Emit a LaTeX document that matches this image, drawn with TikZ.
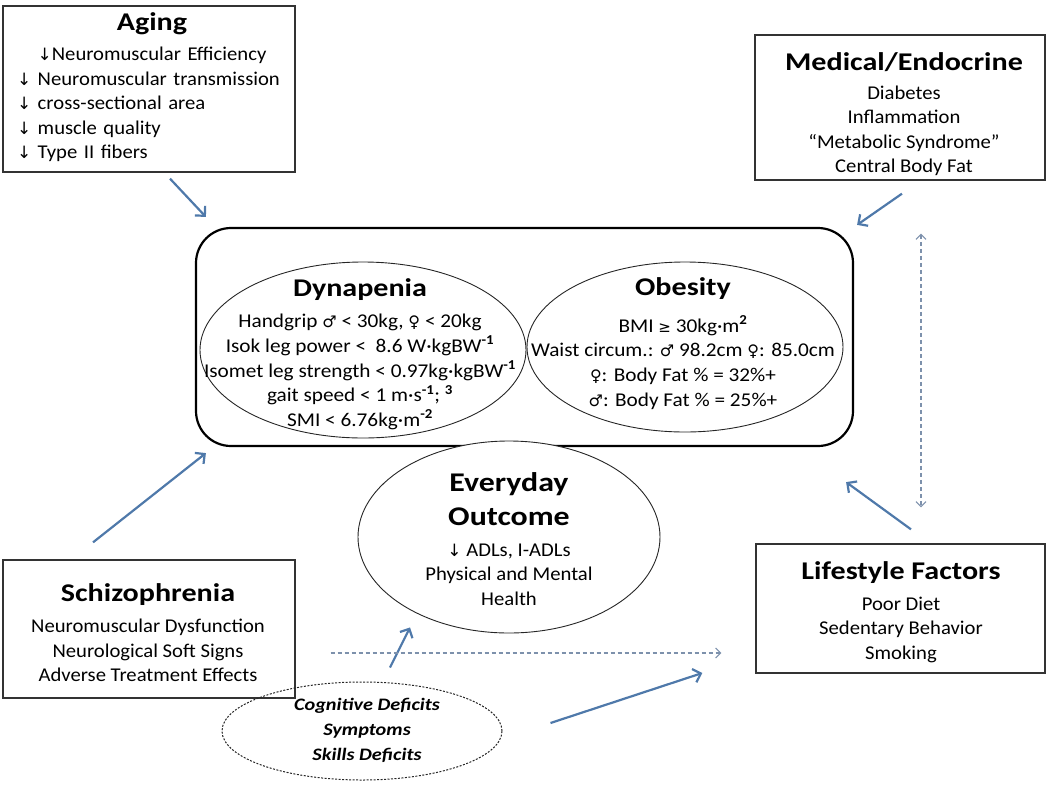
\documentclass[tikz,border=0pt]{standalone}
\usepackage{fontspec}
\setmainfont{Carlito}[FakeStretch=1.06]
\newfontfamily\titlefam{Carlito}[FakeStretch=1.18]
\newfontfamily\ellfam{Carlito}[FakeStretch=1.09]
\newfontfamily\cogfam{Carlito}[FakeStretch=1.16]
\newfontfamily\symf{DejaVu Sans}
\usetikzlibrary{arrows.meta,shapes.geometric,calc}
\newcommand{\mal}{{\symf\fontsize{16}{16}\selectfont ♂}}
\newcommand{\fem}{{\symf\fontsize{16}{16}\selectfont ♀}}
\newcommand{\dn}{{\symf\fontsize{17}{17}\selectfont ↓}}
\newcommand{\geqs}{{\symf\fontsize{15}{15}\selectfont ≥}}
\newcommand{\sps}[1]{\textsuperscript{\textbf{#1}}}
\newcommand{\titlef}{\titlefam\fontsize{25.5}{30}\selectfont\bfseries}
\newcommand{\evf}{\titlefam\fontsize{27}{35}\selectfont\bfseries}
\definecolor{arrblue}{RGB}{79,121,170}
\definecolor{dashblue}{RGB}{125,145,172}
\begin{document}
\begin{tikzpicture}[x=1pt,y=-1pt,
  box/.style={draw=black!80, line width=1.3pt, rectangle, inner sep=0pt},
  body/.style={font=\fontsize{19.5}{24.5}\selectfont, align=center, inner sep=0pt},
  ebody/.style={font=\ellfam\fontsize{19.5}{24.6}\selectfont, align=center, inner sep=0pt},
  oval/.style={draw=black!85, line width=0.9pt, ellipse, inner sep=0pt},
  arr/.style={draw=arrblue, line width=2.2pt, -{Straight Barb[length=7pt,width=14pt]}},
  darr/.style={draw=dashblue, line width=1.1pt, dash pattern=on 4pt off 3pt, -{Straight Barb[length=5pt,width=10pt]}}
]
\useasboundingbox (0,0) rectangle (1050,788);

% boxes
\node[box, minimum width=292pt, minimum height=166pt] (aging) at (149,89) {};
\node[body, text width=270pt, align=left, anchor=north] (agingtext) at (152,12) {%
\centerline{\titlef Aging}\vspace{6pt}
\centerline{\dn Neuromuscular Efficiency}
\dn{} Neuromuscular transmission\par
\dn{} cross-sectional area\par
\dn{} muscle quality\par
\dn{} Type II fibers};

\node[box, minimum width=290pt, minimum height=145pt] (med) at (900,107.5) {};
\node[body] (medtext) at (904,114.5) {{\titlef Medical/Endocrine}\\[4pt]
Diabetes\\Inflammation\\“Metabolic Syndrome”\\Central Body Fat};

\node[box, minimum width=292pt, minimum height=138pt] (schiz) at (149,629) {};
\node[body] (schiztext) at (148,632.5) {{\titlef Schizophrenia}\\[7pt]
Neuromuscular Dysfunction\\Neurological Soft Signs\\Adverse Treatment Effects};

\node[box, minimum width=289pt, minimum height=129pt] (life) at (900.5,608.5) {};
\node[body] (lifetext) at (901,612) {{\titlef Lifestyle Factors}\\[6pt]
Poor Diet\\Sedentary Behavior\\Smoking};

% core
\node[draw=black, line width=2.2pt, rounded corners=35pt, minimum width=657pt, minimum height=218pt, inner sep=0pt] (core) at (524.5,337) {};

\node[oval, minimum width=326pt, minimum height=176pt] (dyn) at (363,350) {};
\node[ebody] (dyntext) at (360,354) {{\titlef Dynapenia}\\[7pt]
Handgrip \mal{} < 30kg, \fem{} < 20kg\\
Isok leg power <~ 8.6 W·kgBW\sps{-1}\\
Isomet leg strength < 0.97kg·kgBW\sps{-1}\\
gait speed < 1 m·s\sps{-1}; \sps{3}\\
SMI < 6.76kg·m\sps{-2}};

\node[oval, minimum width=316pt, minimum height=170pt] (obe) at (685,347) {};
\node[ebody] (obetext) at (683,343.5) {{\titlef Obesity}\\[12pt]
BMI \geqs{} 30kg·m\sps{2}\\
Waist circum.: \mal{} 98.2cm \fem: 85.0cm\\
\fem: Body Fat \% = 32\%+\\
\mal: Body Fat \% = 25\%+};

\node[oval, fill=white, minimum width=302pt, minimum height=192pt] (every) at (509,537) {};
\node[body] (everytext) at (509,539) {{\evf Everyday}\\[10pt]{\evf Outcome}\\[6pt]
\dn{} ADLs, I-ADLs\\Physical and Mental\\Health};

\node[oval, dash pattern=on 2pt off 1.5pt, line width=1pt, minimum width=280pt, minimum height=98pt] (cog) at (362,731) {};
\node[body, font=\cogfam\fontsize{17.5}{25}\selectfont\bfseries\itshape] (cogtext) at (367,730) {Cognitive Deficits\\Symptoms\\Skills Deficits};

% connectors
\draw[arr] ($(aging.south)+(21,6)$) -- ($(core.north west)+(11,-10)$);
\draw[arr] ($(med.south)+(2,13)$) -- ($(core.north east)+(3,-2)$);
\draw[arr] ($(schiz.north)+(-56,-17)$) -- ($(core.south west)+(11,6)$);
\draw[arr] ($(life.north)+(10.5,-14)$) -- ($(core.south east)+(-8,35)$);
\draw[arr] ($(cog.north)+(28,-14)$) -- ($(every.south)+(-99,-6)$);
\draw[arr] ($(cog.east)+(48,-8)$) -- ($(life.west)+(-53,64.5)$);
\draw[darr] ($(schiz.east)+(35,24)$) -- ($(life.west)+(-34,44.5)$);
\draw[darr, {Straight Barb[length=5pt,width=10pt]}-{Straight Barb[length=5pt,width=10pt]}] ($(med.south)+(21,53)$) -- ($(life.north)+(20.5,-36)$);
\end{tikzpicture}
\end{document}
